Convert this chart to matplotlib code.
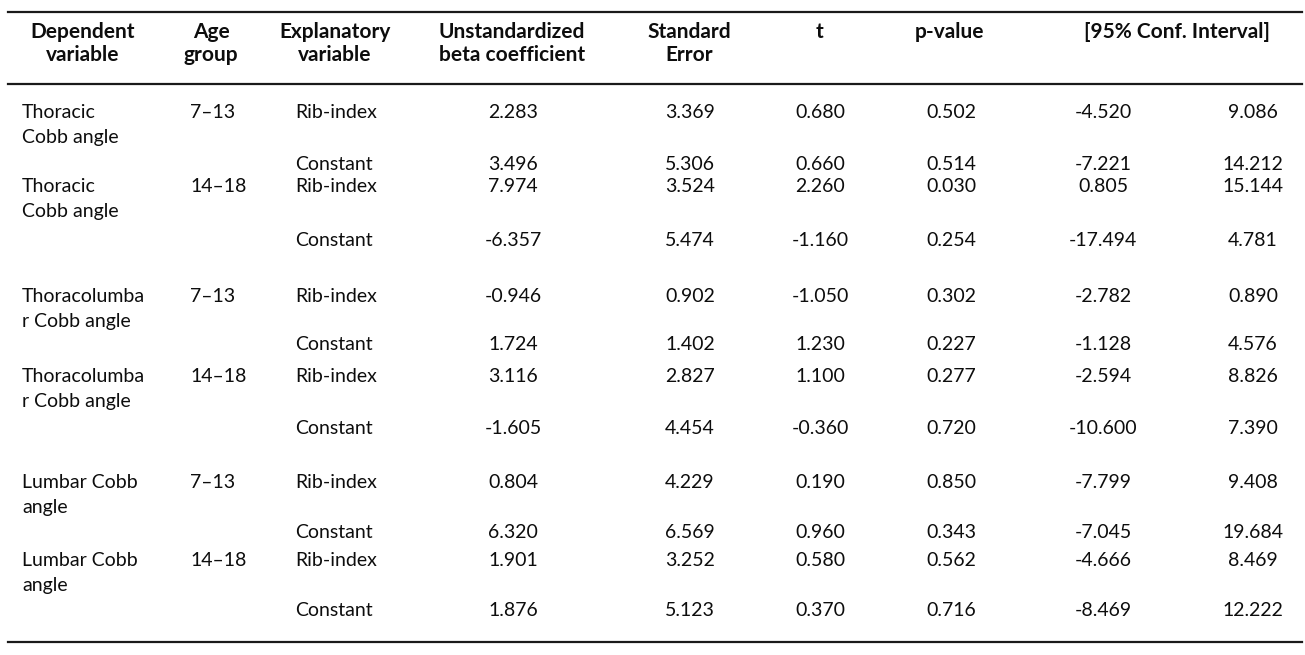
import matplotlib.pyplot as plt

plt.rcParams['font.family'] = ['Lato', 'DejaVu Sans']

# table contents
dep_vars = ["Thoracic\nCobb angle", "Thoracic\nCobb angle",
            "Thoracolumba\nr Cobb angle", "Thoracolumba\nr Cobb angle",
            "Lumbar Cobb\nangle", "Lumbar Cobb\nangle"]
age_groups = ["7\u201313", "14\u201318", "7\u201313", "14\u201318", "7\u201313", "14\u201318"]
expl_vars = ["Rib-index", "Constant"]

beta = ["2.283", "3.496", "7.974", "-6.357", "-0.946", "1.724",
        "3.116", "-1.605", "0.804", "6.320", "1.901", "1.876"]
std_err = ["3.369", "5.306", "3.524", "5.474", "0.902", "1.402",
           "2.827", "4.454", "4.229", "6.569", "3.252", "5.123"]
t_vals = ["0.680", "0.660", "2.260", "-1.160", "-1.050", "1.230",
          "1.100", "-0.360", "0.190", "0.960", "0.580", "0.370"]
p_vals = ["0.502", "0.514", "0.030", "0.254", "0.302", "0.227",
          "0.277", "0.720", "0.850", "0.343", "0.562", "0.716"]
ci_low = ["-4.520", "-7.221", "0.805", "-17.494", "-2.782", "-1.128",
          "-2.594", "-10.600", "-7.799", "-7.045", "-4.666", "-8.469"]
ci_high = ["9.086", "14.212", "15.144", "4.781", "0.890", "4.576",
           "8.826", "7.390", "9.408", "19.684", "8.469", "12.222"]

headers = ["Dependent\nvariable", "Age\ngroup", "Explanatory\nvariable",
           "Unstandardized\nbeta coefficient", "Standard\nError", "t",
           "p-value", "[95% Conf. Interval]"]

# layout (pixel coordinates)
W, H = 1305, 655
header_x = [83, 211, 335, 512, 689, 820, 950, 1177]
row_y = [113, 165, 187, 240, 297, 344, 377, 428, 483, 533, 560, 610]
num_cols = [(513, beta), (690, std_err), (820, t_vals), (951, p_vals),
            (1103, ci_low), (1253, ci_high)]
fs = 14
fs_head = 15
ink = '#0d0d0d'

fig = plt.figure(figsize=(W / 100, H / 100), dpi=100)
ax = fig.add_axes([0, 0, 1, 1])
ax.set_xlim(0, W)
ax.set_ylim(H, 0)
ax.axis('off')

for y in [12, 84, 642]:
    ax.plot([8, 1302], [y, y], color='#1a1a1a', lw=1.6)

for x, h in zip(header_x, headers):
    for k, line in enumerate(h.split('\n')):
        ax.text(x, 32 + 23 * k, line, ha='center', va='center',
                fontsize=fs_head, fontweight='bold', color=ink)

for i, y in enumerate(row_y):
    if i % 2 == 0:
        g = i // 2
        for k, line in enumerate(dep_vars[g].split('\n')):
            ax.text(22, y + 25 * k, line, ha='left', va='center',
                    fontsize=fs, color=ink)
        ax.text(190, y, age_groups[g], ha='left', va='center', fontsize=fs,
                color=ink)
    ax.text(295, y, expl_vars[i % 2], ha='left', va='center', fontsize=fs,
            color=ink)
    for x, col in num_cols:
        ax.text(x, y, col[i], ha='center', va='center', fontsize=fs,
                color=ink)

fig.savefig('out.png', dpi=100, facecolor='white')
